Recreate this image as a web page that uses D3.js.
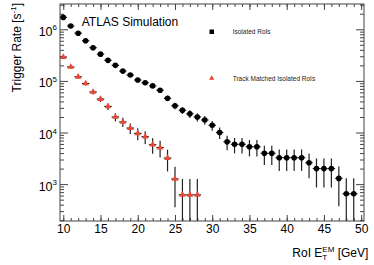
<!DOCTYPE html>
<html>
<head>
<meta charset="utf-8">
<script src="https://cdn.jsdelivr.net/npm/d3@7"></script>
<style>
body { margin: 0; background: #fff; }
text { font-family: "Liberation Sans", Arial, Helvetica, sans-serif; }
.axis path.domain { display: none; }
.axis line { stroke: #444; stroke-width: 1; }
.axis text { font-size: 12px; fill: #000; }
</style>
</head>
<body>
<svg id="viz" width="374" height="265"></svg>
<script>
// DATA
var isoBins = [10, 11, 12, 13, 14, 15, 16, 17, 18, 19, 20, 21, 22, 23, 24, 25, 26, 27, 28, 29,
    30, 31, 32, 33, 34, 35, 36, 37, 38, 39, 40, 41, 42, 43, 44, 45, 46, 47, 48, 49];
var isoRate = [1.7e6, 1.16e6, 8.4e5, 6.0e5, 4.4e5, 3.3e5, 2.5e5, 2.0e5, 1.55e5, 1.3e5,
    1.04e5, 9.2e4, 8.0e4, 6.6e4, 4.6e4, 3.3e4, 2.7e4, 2.3e4, 2.0e4, 1.75e4,
    1.38e4, 1.0e4, 6.6e3, 5.9e3, 5.9e3, 5.3e3, 5.3e3, 3.95e3, 3.95e3, 3.25e3,
    3.25e3, 3.25e3, 3.25e3, 2.6e3, 2.0e3, 2.0e3, 2.0e3, 1.29e3, 650, 650];
var isoErr = [33240, 27460, 23370, 19750, 16910, 14650, 12750, 11400, 10040, 9190,
    8220, 7730, 7210, 6550, 5470, 4630, 4190, 3870, 3610, 3370,
    2995, 2550, 2070, 1960, 1960, 1860, 1860, 1600, 1600, 1450,
    1450, 1450, 1450, 1300, 1140, 1140, 1140, 916, 650, 650];

var trkBins = [10, 11, 12, 13, 14, 15, 16, 17, 18, 19, 20, 21, 22, 23, 24, 25, 26, 27, 28];
var trkRate = [2.9e5, 1.86e5, 1.2e5, 8.9e4, 6.1e4, 4.45e4, 3.2e4, 2.0e4, 1.6e4, 1.22e4,
    9.6e3, 8.3e3, 5.8e3, 5.1e3, 3.2e3, 1.26e3, 620, 620, 620];
var trkErr = [13730, 11000, 8830, 7610, 6300, 5380, 4560, 3610, 3220, 2820,
    2500, 2320, 1940, 1820, 1440, 905, 635, 635, 635];

var xTicks = [10, 15, 20, 25, 30, 35, 40, 45, 50];
var yDecades = [1e3, 1e4, 1e5, 1e6];
var yExponents = ["3", "4", "5", "6"];
var legendNames = ["Isolated RoIs", "Track Matched Isolated RoIs"];

var svg = d3.select("#viz"); //VARIABLES
var margin = { top: 4, right: 10, bottom: 44, left: 60 };
var w = 374 - margin.left - margin.right,
    h = 265 - margin.top - margin.bottom;
var red = "#ee4433";

var xScale = d3.scaleLinear() //SCALES
    .domain([9.56, 50.38])
    .range([0, w]),
yScale = d3.scaleLog()
    .domain([193, 3.09e6])
    .range([h, 0]);

var g = svg.append("g")
    .attr("transform", "translate(" + margin.left + "," + margin.top + ")");

g.append("clipPath").attr("id", "clip")
    .append("rect").attr("width", w).attr("height", h);

//AXES - root style, ticks pointing inward on all four sides
var minorY = yScale.ticks().filter(function (d) {
    return yDecades.indexOf(d) < 0;
});

g.append("g").attr("class", "axis")
    .attr("transform", "translate(0," + h + ")")
    .call(d3.axisBottom(xScale).tickValues(xTicks).tickSizeInner(-6).tickSizeOuter(0).tickPadding(3.5));
g.append("g").attr("class", "axis")
    .attr("transform", "translate(0," + h + ")")
    .call(d3.axisBottom(xScale).ticks(40).tickSizeInner(-3).tickSizeOuter(0).tickFormat(""));
g.append("g").attr("class", "axis")
    .call(d3.axisTop(xScale).tickValues(xTicks).tickSizeInner(-6).tickSizeOuter(0).tickFormat(""));
g.append("g").attr("class", "axis")
    .call(d3.axisTop(xScale).ticks(40).tickSizeInner(-3).tickSizeOuter(0).tickFormat(""));

g.append("g").attr("class", "axis")
    .call(d3.axisLeft(yScale).tickValues(yDecades).tickSizeInner(-8).tickSizeOuter(0).tickFormat(""));
g.append("g").attr("class", "axis")
    .call(d3.axisLeft(yScale).tickValues(minorY).tickSizeInner(-4).tickSizeOuter(0).tickFormat(""));
g.append("g").attr("class", "axis")
    .attr("transform", "translate(" + w + ",0)")
    .call(d3.axisRight(yScale).tickValues(yDecades).tickSizeInner(-8).tickSizeOuter(0).tickFormat(""));
g.append("g").attr("class", "axis")
    .attr("transform", "translate(" + w + ",0)")
    .call(d3.axisRight(yScale).tickValues(minorY).tickSizeInner(-4).tickSizeOuter(0).tickFormat(""));

g.append("rect") // frame
    .attr("width", w).attr("height", h)
    .attr("fill", "none").attr("stroke", "#444").attr("stroke-width", 1);

// y tick labels 10^n
var yLab = g.selectAll(".ylab")
    .data(yDecades)
    .enter().append("text")
    .attr("class", "ylab")
    .attr("x", -3)
    .attr("y", function (d) { return yScale(d) + 6.5; })
    .style("text-anchor", "end")
    .style("font-size", "12.5px");
yLab.append("tspan").text("10");
yLab.append("tspan")
    .attr("dy", -5.5)
    .style("font-size", "8px")
    .text(function (d, i) { return yExponents[i]; });

//ERROR BARS + MARKERS
function drawSeries(bins, rate, err, cls) {
    var data = bins.map(function (b, i) { return { x: b, v: rate[i], e: err[i] }; });
    var eb = g.append("g").attr("clip-path", "url(#clip)")
        .selectAll("." + cls + "-eb")
        .data(data)
        .enter().append("g")
        .attr("class", cls + "-eb")
        .attr("stroke", "#222")
        .attr("stroke-width", 1.2);
    eb.append("line") // horizontal: bin width
        .attr("x1", function (d) { return xScale(d.x - 0.5); })
        .attr("x2", function (d) { return xScale(d.x + 0.5); })
        .attr("y1", function (d) { return yScale(d.v); })
        .attr("y2", function (d) { return yScale(d.v); });
    eb.append("line") // vertical: stat error
        .attr("x1", function (d) { return xScale(d.x); })
        .attr("x2", function (d) { return xScale(d.x); })
        .attr("y1", function (d) { return yScale(d.v + d.e); })
        .attr("y2", function (d) {
            var lo = d.v - d.e;
            return lo > yScale.domain()[0] ? yScale(lo) : h + 2;
        });
    return data;
}

var isoData = drawSeries(isoBins, isoRate, isoErr, "iso");
var trkData = drawSeries(trkBins, trkRate, trkErr, "trk");

g.selectAll(".iso")
    .data(isoData)
    .enter().append("circle")
    .attr("class", "iso")
    .attr("cx", function (d) { return xScale(d.x); })
    .attr("cy", function (d) { return yScale(d.v); })
    .attr("r", 2.8)
    .attr("fill", "#000");

var tri = d3.symbol().type(d3.symbolTriangle).size(18);
g.selectAll(".trk")
    .data(trkData)
    .enter().append("path")
    .attr("class", "trk")
    .attr("d", tri)
    .attr("transform", function (d) { return "translate(" + xScale(d.x) + "," + yScale(d.v) + ")"; })
    .attr("fill", red);

//LEGEND
var leg = svg.append("g");
leg.append("rect")
    .attr("x", 209.5).attr("y", 29.5).attr("width", 4.5).attr("height", 4.5)
    .attr("fill", "#000");
leg.append("path")
    .attr("d", d3.symbol().type(d3.symbolTriangle).size(12))
    .attr("transform", "translate(211.7,78.3)")
    .attr("fill", red);
leg.selectAll(".legtxt")
    .data(legendNames)
    .enter().append("text")
    .attr("class", "legtxt")
    .attr("x", 232.7)
    .attr("y", function (d, i) { return i === 0 ? 34 : 80.6; })
    .style("font-size", "6.5px")
    .style("fill", "#222")
    .text(function (d) { return d; });

svg.append("text")
    .attr("x", 81.7).attr("y", 26)
    .style("font-size", "12px")
    .text("ATLAS Simulation");

//AXIS TITLES
var yt = svg.append("text")
    .attr("transform", "translate(21,3) rotate(-90)")
    .style("text-anchor", "end")
    .style("font-size", "12px");
yt.append("tspan").text("Trigger Rate [s");
yt.append("tspan").attr("dy", -5).style("font-size", "8px").text("-1");
yt.append("tspan").attr("dy", 5).text("]");

var xt = svg.append("text")
    .attr("x", 292.3).attr("y", 257.3)
    .style("font-size", "12px");
xt.append("tspan").text("RoI E");
xt.append("tspan").attr("dy", 3).style("font-size", "8px").text("T");
xt.append("tspan").attr("dx", -4.9).attr("dy", -8.5).style("font-size", "8px").text("EM");
xt.append("tspan").attr("dy", 5.5).text(" [GeV]");
</script>
</body>
</html>
